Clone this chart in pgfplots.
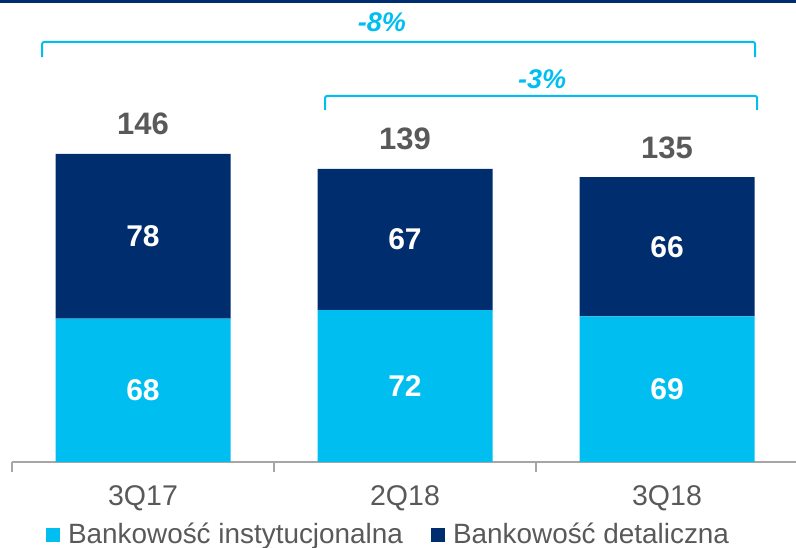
\documentclass[border=0pt]{standalone}
\usepackage{pgfplots}
\pgfplotsset{compat=1.18}
\usepackage{pgfplotstable}
\usepackage{fontspec}
\setmainfont{Liberation Sans}
\definecolor{cyanbar}{RGB}{0,191,240}
\definecolor{navybar}{RGB}{0,45,110}
\definecolor{txtgray}{RGB}{89,89,89}
\definecolor{axgray}{RGB}{166,166,166}

% x, segment value, centre of segment, label
\pgfplotstableread{
x v c lab
0 68 34 68
1 72 36 72
2 69 34.5 69
}\inst
\pgfplotstableread{
x v c lab
0 78 107 78
1 67 105.5 67
2 66 102 66
}\ret
\pgfplotstableread{
x y lab
0 146 146
1 139 139
2 135 135
}\tot

\begin{document}
\begin{tikzpicture}
\useasboundingbox (0,0) rectangle (796pt,548pt);
\fill[navybar] (0,545pt) rectangle (796pt,548pt);
\begin{axis}[at={(12pt,86pt)}, anchor=south west, scale only axis,
  width=786pt, height=462pt,
  xmin=-0.5, xmax=2.5, ymin=0, ymax=219,
  clip=false,
  ybar stacked, bar width=175pt,
  axis y line=none, axis x line*=bottom,
  x axis line style={draw=axgray, line width=1.5pt},
  xtick={0,1,2}, xticklabels={3Q17,2Q18,3Q18},
  major x tick style={draw=none},
  extra x ticks={-0.5,0.5,1.5,2.5}, extra x tick labels={},
  extra x tick style={tick align=outside, major tick length=10pt,
    major x tick style={draw=axgray, line width=1.5pt}},
  xticklabel style={anchor=base, yshift=-44pt, font=\fontsize{28.5}{30}\selectfont, text=txtgray},
  legend columns=2,
  legend style={at={(axis description cs:0.0433,-0.155)}, anchor=west,
    draw=none, fill=none, inner sep=0pt, outer sep=0pt,
    font=\fontsize{27.9}{28}\selectfont, text=txtgray,
    nodes={inner sep=0pt},
    /tikz/every odd column/.append style={column sep=8pt},
    /tikz/every even column/.append style={column sep=28pt}},
]
\addplot[fill=cyanbar, draw=none,
  legend image code/.code={\fill[cyanbar] (0pt,-8.5pt) rectangle (14pt,5.5pt);}]
  table[x=x, y=v] {\inst};
\addplot[fill=navybar, draw=none,
  legend image code/.code={\fill[navybar] (0pt,-8.5pt) rectangle (14pt,5.5pt);}]
  table[x=x, y=v] {\ret};
\legend{Bankowość instytucjonalna, Bankowość detaliczna}

\draw[cyanbar, line width=2pt, rounded corners=2pt]
  (axis cs:-0.385,191.9) -- (axis cs:-0.385,199.1) -- (axis cs:2.336,199.1) -- (axis cs:2.336,191.9);
\node[text=cyanbar, font=\bfseries\itshape\fontsize{27}{27}\selectfont] at (axis cs:0.912,208.5) {-8\%};
\draw[cyanbar, line width=2pt, rounded corners=2pt]
  (axis cs:0.695,166.8) -- (axis cs:0.695,173.5) -- (axis cs:2.344,173.5) -- (axis cs:2.344,166.8);
\node[text=cyanbar, font=\bfseries\itshape\fontsize{27}{27}\selectfont] at (axis cs:1.523,181.5) {-3\%};
\end{axis}

\begin{axis}[at={(12pt,86pt)}, anchor=south west, scale only axis,
  width=786pt, height=462pt,
  xmin=-0.5, xmax=2.5, ymin=0, ymax=219,
  clip=false, hide axis]
\addplot[draw=none, mark=none, nodes near coords, point meta=explicit symbolic,
  every node near coord/.append style={anchor=center,
    font=\bfseries\fontsize{30}{30}\selectfont, text=white}]
  table[x=x, y=c, meta=lab] {\inst};
\addplot[draw=none, mark=none, nodes near coords, point meta=explicit symbolic,
  every node near coord/.append style={anchor=center,
    font=\bfseries\fontsize{30}{30}\selectfont, text=white}]
  table[x=x, y=c, meta=lab] {\ret};
\addplot[draw=none, mark=none, nodes near coords, point meta=explicit symbolic,
  every node near coord/.append style={anchor=base, yshift=19pt,
    font=\bfseries\fontsize{31}{31}\selectfont, text=txtgray}]
  table[x=x, y=y, meta=lab] {\tot};
\end{axis}
\end{tikzpicture}
\end{document}
